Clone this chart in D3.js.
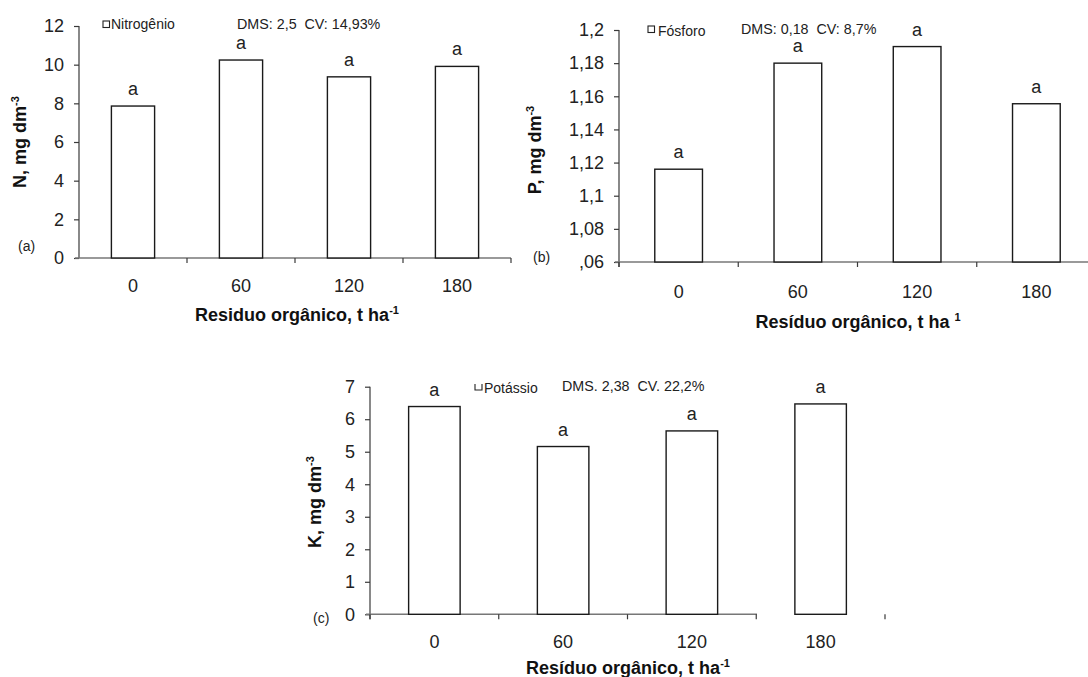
<!DOCTYPE html>
<html>
<head>
<meta charset="utf-8">
<script src="https://cdn.jsdelivr.net/npm/d3@7"></script>
<style>
  html, body { margin: 0; padding: 0; background: #fff; }
  svg { display: block; }
  text { font-family: "Liberation Sans", Arial, sans-serif; }
</style>
</head>
<body>
<svg id="chart" width="1088" height="677"></svg>
<script>
// ---------- data ----------
const categories = ["0", "60", "120", "180"];

const nValues = [7.86, 10.24, 9.37, 9.91];
const pValues = [1.116, 1.18, 1.19, 1.1555];
const kValues = [6.39, 5.16, 5.64, 6.47];

const nLetters = ["a", "a", "a", "a"];
const pLetters = ["a", "a", "a", "a"];
const kLetters = ["a", "a", "a", "a"];

const nTicks = [0, 2, 4, 6, 8, 10, 12];
const nTickLabels = ["0", "2", "4", "6", "8", "10", "12"];
const pTicks = [1.06, 1.08, 1.10, 1.12, 1.14, 1.16, 1.18, 1.20];
const pTickLabels = [",06", "1,08", "1,1", "1,12", "1,14", "1,16", "1,18", "1,2"];
const kTicks = [0, 1, 2, 3, 4, 5, 6, 7];
const kTickLabels = ["0", "1", "2", "3", "4", "5", "6", "7"];

const legendNames = ["Nitrogênio", "Fósforo", "Potássio"];
const statsTexts = ["DMS: 2,5  CV: 14,93%", "DMS: 0,18  CV: 8,7%", "DMS. 2,38  CV. 22,2%"];
const panelTags = ["(a)", "(b)", "(c)"];
const yTitles = ["N, mg dm", "P, mg dm", "K, mg dm"];
const yTitleSups = ["-3", "-3", "-3"];
const xTitles = ["Residuo orgânico, t ha", "Resíduo orgânico, t ha ", "Resíduo orgânico, t ha"];
const xTitleSups = ["-1", "1", "-1"];

// ---------- layout (pixels) ----------
const layouts = [
  { left: 79, right: 511, top: 26, bottom: 258, yDomain: [0, 12],
    yLab: [26, 142], tag: [18, 251], leg: [103, 21], legText: [111, 29], stats: [237, 29],
    xTitle: [297, 321], axisLine: [75, 511], bTicks: [1, 2, 3, 4], pad: 21.5, yExt: 0 },
  { left: 619, right: 1096, top: 30, bottom: 262, yDomain: [1.06, 1.20],
    yLab: [541, 150], tag: [533, 262], leg: [648, 26], legText: [658, 36], stats: [741, 34],
    xTitle: [858, 328], axisLine: [615, 1088], bTicks: [0, 1, 2, 3], pad: 23.5, yExt: 5 },
  { left: 370, right: 885, top: 386.7, bottom: 614.3, yDomain: [0, 7],
    yLab: [321, 502], tag: [313, 623], leg: [475, 383], legText: [484, 393], stats: [562, 391],
    xTitle: [628, 674], axisLine: [366, 757], bTicks: [0, 1, 2, 3, 4], pad: 21, yExt: 5 }
];

const panels = [
  { values: nValues, letters: nLetters, ticks: nTicks, tickLabels: nTickLabels },
  { values: pValues, letters: pLetters, ticks: pTicks, tickLabels: pTickLabels },
  { values: kValues, letters: kLetters, ticks: kTicks, tickLabels: kTickLabels }
];

const svg = d3.select("#chart");
const textColor = "#222";
const axisColor = "#3a3a3a";

panels.forEach((p, i) => {
  const L = layouts[i];
  const g = svg.append("g");

  const x = d3.scaleBand().domain(categories).range([L.left, L.right])
    .paddingInner(0.6).paddingOuter(0.3);
  const xb = d3.scaleLinear().domain([0, categories.length]).range([L.left, L.right]);
  const y = d3.scaleLinear().domain(L.yDomain).range([L.bottom, L.top]);

  // y axis
  const yAxis = d3.axisLeft(y).tickValues(p.ticks)
    .tickFormat((d, j) => p.tickLabels[j]).tickSize(5).tickPadding(10).tickSizeOuter(0);
  const ya = g.append("g").attr("transform", `translate(${L.left},0)`).call(yAxis);
  ya.select(".domain").remove();
  ya.selectAll(".tick line").attr("stroke", axisColor).attr("stroke-width", 1.2);
  ya.selectAll(".tick text").attr("fill", textColor).style("font-size", "18px")
    .style("font-family", "'Liberation Sans', Arial, sans-serif");
  g.append("line").attr("x1", L.left).attr("x2", L.left)
    .attr("y1", y(L.yDomain[1])).attr("y2", L.bottom + L.yExt)
    .attr("stroke", axisColor).attr("stroke-width", 1.2);

  // x axis line and boundary ticks
  g.append("line").attr("x1", L.axisLine[0]).attr("x2", L.axisLine[1])
    .attr("y1", L.bottom).attr("y2", L.bottom)
    .attr("stroke", "#777").attr("stroke-width", 1.5);
  g.selectAll(".bt").data(L.bTicks).enter().append("line")
    .attr("x1", d => xb(d)).attr("x2", d => xb(d))
    .attr("y1", L.bottom).attr("y2", L.bottom + 5)
    .attr("stroke", axisColor).attr("stroke-width", 1.2);

  // x tick labels
  const xAxis = d3.axisBottom(x).tickSize(0).tickPadding(L.pad);
  const xa = g.append("g").attr("transform", `translate(0,${L.bottom})`).call(xAxis);
  xa.select(".domain").remove();
  xa.selectAll(".tick text").attr("fill", textColor).style("font-size", "18px")
    .style("font-family", "'Liberation Sans', Arial, sans-serif");

  // bars
  g.selectAll(".bar").data(p.values).enter().append("rect")
    .attr("x", (d, j) => x(categories[j]))
    .attr("width", x.bandwidth())
    .attr("y", d => y(d))
    .attr("height", d => L.bottom - y(d))
    .attr("fill", "#fff").attr("stroke", "#1a1a1a").attr("stroke-width", 1.4);

  // significance letters
  g.selectAll(".let").data(p.values).enter().append("text")
    .attr("x", (d, j) => x(categories[j]) + x.bandwidth() / 2)
    .attr("y", d => y(d) - 11)
    .attr("text-anchor", "middle").attr("fill", textColor)
    .style("font-size", "18px")
    .text((d, j) => p.letters[j]);

  // legend
  if (i === 2) {
    g.append("path")
      .attr("d", `M${L.leg[0]},${L.leg[1] + 1}V${L.leg[1] + 7}H${L.leg[0] + 7}V${L.leg[1] + 1}`)
      .attr("fill", "none").attr("stroke", "#222").attr("stroke-width", 1.1);
  } else {
    g.append("rect").attr("x", L.leg[0]).attr("y", L.leg[1]).attr("width", 6.5).attr("height", 6.5)
      .attr("fill", "#fff").attr("stroke", "#222").attr("stroke-width", 1.1);
  }
  g.append("text").attr("x", L.legText[0]).attr("y", L.legText[1])
    .attr("fill", textColor).style("font-size", "14px").text(legendNames[i]);
  g.append("text").attr("x", L.stats[0]).attr("y", L.stats[1])
    .attr("fill", textColor).style("font-size", "14.3px").attr("xml:space", "preserve")
    .style("white-space", "pre").text(statsTexts[i]);

  // panel tag
  g.append("text").attr("x", L.tag[0]).attr("y", L.tag[1])
    .attr("fill", textColor).style("font-size", "14px").text(panelTags[i]);

  // y title
  const yt = g.append("text")
    .attr("transform", `translate(${L.yLab[0]},${L.yLab[1]}) rotate(-90)`)
    .attr("text-anchor", "middle").attr("fill", "#111")
    .style("font-size", "18px").style("font-weight", "bold");
  yt.append("tspan").text(yTitles[i]);
  yt.append("tspan").attr("dy", -7).style("font-size", "11px").text(yTitleSups[i]);

  // x title
  const xt = g.append("text")
    .attr("x", L.xTitle[0]).attr("y", L.xTitle[1])
    .attr("text-anchor", "middle").attr("fill", "#111")
    .style("font-size", "18px").style("font-weight", "bold")
    .style("white-space", "pre");
  xt.append("tspan").text(xTitles[i]);
  xt.append("tspan").attr("dy", -7).style("font-size", "11px").text(xTitleSups[i]);
});
</script>
</body>
</html>
